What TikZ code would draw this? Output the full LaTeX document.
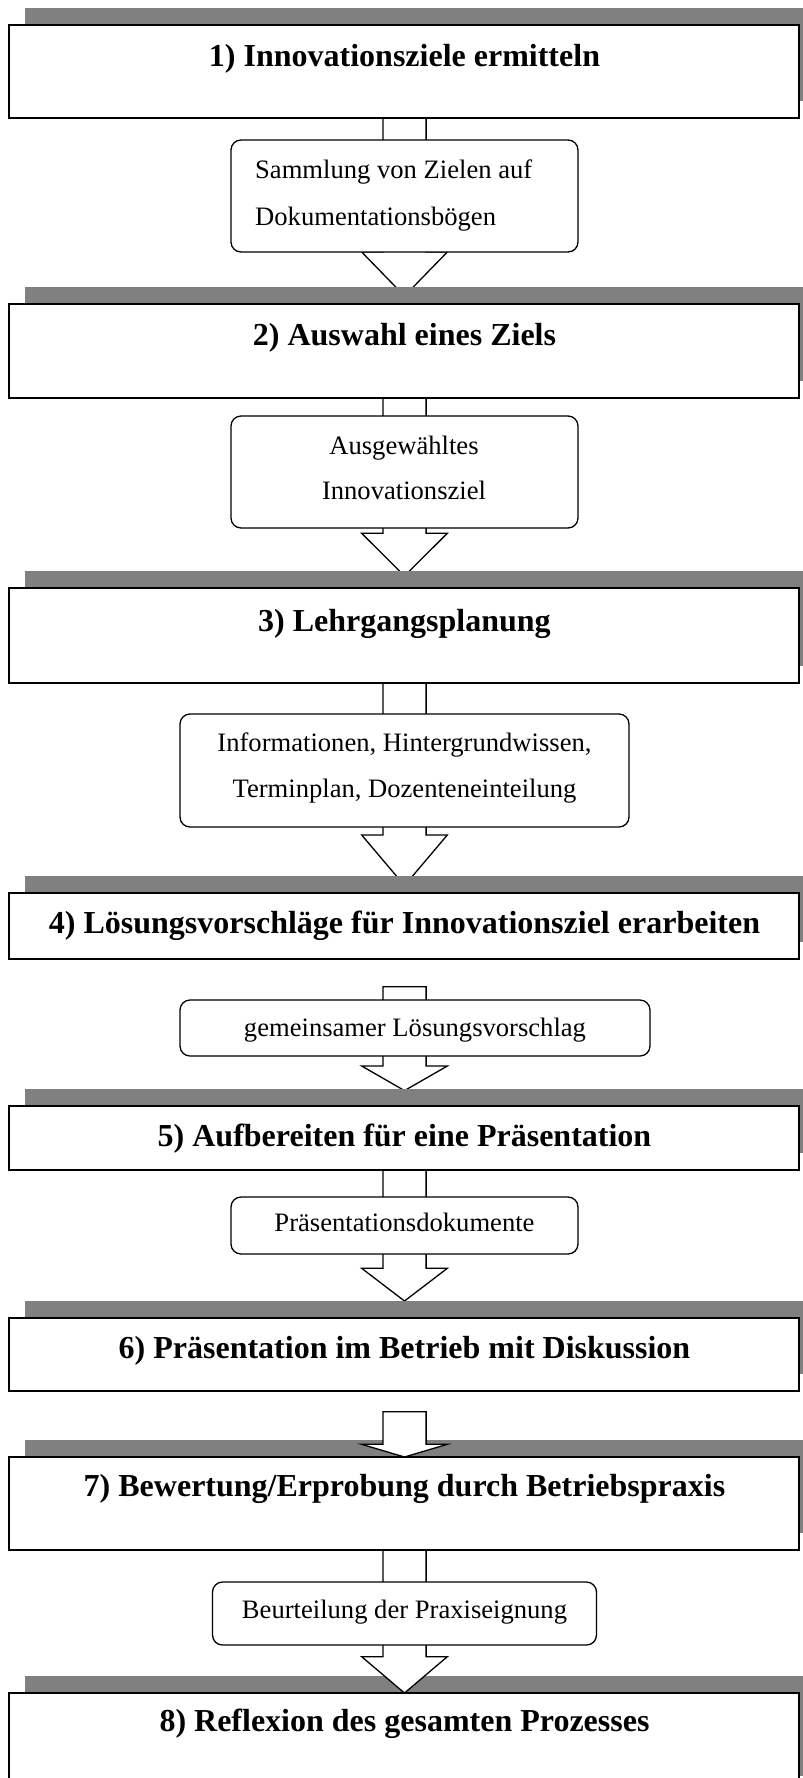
\documentclass[tikz,border=0pt]{standalone}
\usepackage{fontspec}
\setmainfont{Liberation Serif}
\usetikzlibrary{calc}
\definecolor{shadowgray}{RGB}{128,128,128}
\pgfdeclarelayer{lowarrows}
\pgfdeclarelayer{shadowlayer}
\pgfdeclarelayer{higharrows}
\pgfsetlayers{lowarrows,shadowlayer,higharrows,main}

% hollow block arrow pointing down: #1 start, #2 head base, #3 tip (all on the centre line)
\newcommand\flowarrow[3]{%
  \draw[flow] ([xshift=-21.6pt]#1) -- ([xshift=-21.6pt]#2) -- ([xshift=-42.8pt]#2)
    -- (#3) -- ([xshift=42.8pt]#2) -- ([xshift=21.6pt]#2) -- ([xshift=21.6pt]#1) -- cycle;}
% grey drop shadow of a stage box, shifted right and up
\newcommand\stageshadow[1]{%
  \fill[shadowgray] ([shift={(16,-16.7)}]#1.north west) rectangle ([shift={(16,-16.7)}]#1.south east);}

\begin{document}
\begin{tikzpicture}[x=1pt,y=-1pt,
  stage/.style={draw=black, line width=2pt, fill=white, minimum width=790pt,
    inner sep=0pt, outer sep=0pt, anchor=north west},
  note/.style={draw=black, line width=1.3pt, fill=white, rounded corners=10pt,
    inner sep=0pt, outer sep=0pt, anchor=north west},
  title/.style={font=\bfseries\fontsize{32}{38}\selectfont, anchor=base, inner sep=0pt},
  small/.style={font=\fontsize{26.6}{47}\selectfont, anchor=base, inner sep=0pt},
  smallleft/.style={small, anchor=base west},
  flow/.style={draw=black, line width=1.3pt, fill=white, line join=miter},
]
\useasboundingbox (0,0) rectangle (803,1778);
\clip (0,0) rectangle (803,1778);

% stage boxes
\node[stage, minimum height=93pt]  (b1) at (9,25)   {};
\node[stage, minimum height=94pt]  (b2) at (9,304)  {};
\node[stage, minimum height=95pt]  (b3) at (9,588)  {};
\node[stage, minimum height=66pt]  (b4) at (9,893)  {};
\node[stage, minimum height=64pt]  (b5) at (9,1106) {};
\node[stage, minimum height=73pt]  (b6) at (9,1318) {};
\node[stage, minimum height=93pt]  (b7) at (9,1457) {};
\node[stage, minimum height=100pt] (b8) at (9,1693) {};

\begin{pgfonlayer}{shadowlayer}
  \foreach \b in {b1,b2,b3,b4,b5,b6,b7,b8} {\stageshadow{\b}}
\end{pgfonlayer}

% stage titles
\node[title] (t1) at (404.5,66.7)   {1) Innovationsziele ermitteln};
\node[title] (t2) at (404.5,345)    {2) Auswahl eines Ziels};
\node[title] (t3) at (404.5,631.5)  {3) Lehrgangsplanung};
\node[title] (t4) at (404.5,933.3)  {4) Lösungsvorschläge für Innovationsziel erarbeiten};
\node[title] (t5) at (404.5,1146)   {5) Aufbereiten für eine Präsentation};
\node[title] (t6) at (404.5,1358.3) {6) Präsentation im Betrieb mit Diskussion};
\node[title] (t7) at (404.5,1496.7) {7) Bewertung/Erprobung durch Betriebspraxis};
\node[title] (t8) at (404.5,1731.7) {8) Reflexion des gesamten Prozesses};

% intermediate results
\node[note, minimum width=347pt, minimum height=112pt] (n1) at (231,140)   {};
\node[note, minimum width=347pt, minimum height=112pt] (n2) at (231,416)   {};
\node[note, minimum width=449pt, minimum height=113pt] (n3) at (180,714)   {};
\node[note, minimum width=470pt, minimum height=56pt]  (n4) at (180,1000)  {};
\node[note, minimum width=347pt, minimum height=57pt]  (n5) at (231,1197)  {};
\node[note, minimum width=384pt, minimum height=63pt]  (n7) at (212.5,1582) {};

\node[smallleft] (n1a) at (255,178.5) {Sammlung von Zielen auf};
\node[smallleft] (n1b) at (255,225)   {Dokumentationsbögen};
\node[small] (n2a) at (404,454)      {Ausgewähltes};
\node[small] (n2b) at (404,499.5)    {Innovationsziel};
\node[small] (n3a) at (404.5,751.7)  {Informationen, Hintergrundwissen,};
\node[small] (n3b) at (404.5,797.3)  {Terminplan, Dozenteneinteilung};
\node[small] (n4a) at (415,1036.7)   {gemeinsamer Lösungsvorschlag};
\node[small] (n5a) at (404.5,1231.7) {Präsentationsdokumente};
\node[small] (n7a) at (404.5,1618.3) {Beurteilung der Praxiseignung};

% arrow end points on the centre line
\coordinate (a1b) at (404.5,252);    \coordinate (a1t) at (404.5,296);
\coordinate (a2b) at (404.5,533.3);  \coordinate (a2t) at (404.5,576);
\coordinate (a3b) at (404.5,835);    \coordinate (a3t) at (404.5,885.6);
\coordinate (a4s) at (404.5,986.7);
\coordinate (a4b) at (404.5,1066);   \coordinate (a4t) at (404.5,1090.6);
\coordinate (a5b) at (404.5,1268.3); \coordinate (a5t) at (404.5,1301);
\coordinate (a6s) at (404.5,1411.7);
\coordinate (a6b) at (404.5,1444.3);
\coordinate (a7b) at (404.5,1656.7);

\begin{pgfonlayer}{lowarrows}
  \flowarrow{b1.south -| a1b}{a1b}{a1t}
  \flowarrow{b2.south -| a2b}{a2b}{a2t}
  \flowarrow{b3.south -| a3b}{a3b}{a3t}
  \flowarrow{a4s}{a4b}{a4t}
  \flowarrow{b5.south -| a5b}{a5b}{a5t}
\end{pgfonlayer}
\begin{pgfonlayer}{higharrows}
  \flowarrow{a6s}{a6b}{b7.north -| a6b}
  \flowarrow{b7.south -| a7b}{a7b}{b8.north -| a7b}
\end{pgfonlayer}
\end{tikzpicture}
\end{document}
